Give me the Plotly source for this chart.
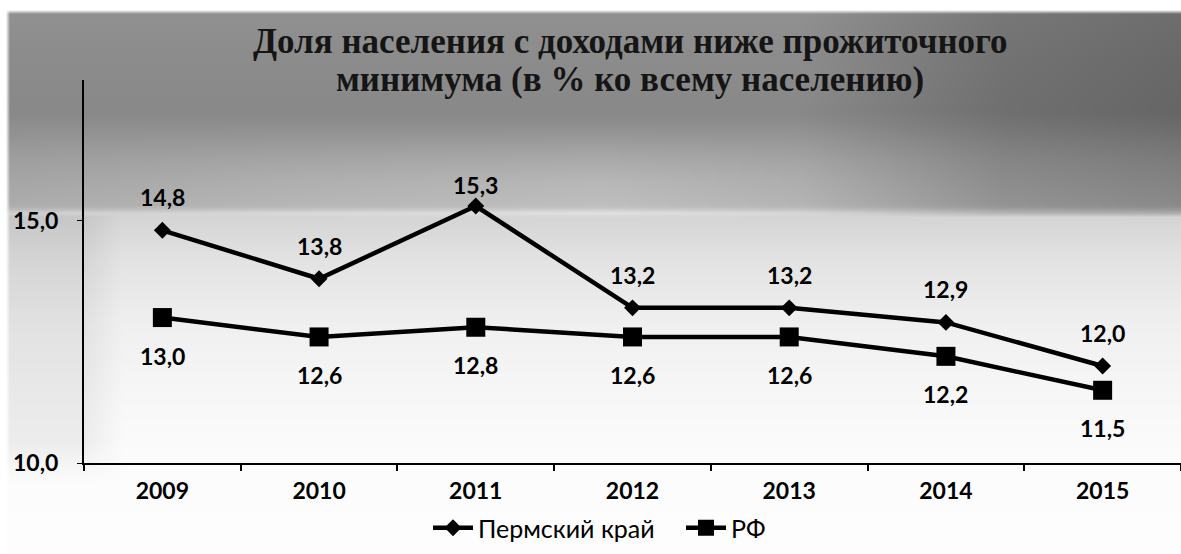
import base64
import struct
import zlib

import plotly.graph_objects as go

# ---------------- data ----------------
years = ["2009", "2010", "2011", "2012", "2013", "2014", "2015"]
perm_values = [14.8, 13.8, 15.3, 13.2, 13.2, 12.9, 12.0]
rf_values = [13.0, 12.6, 12.8, 12.6, 12.6, 12.2, 11.5]
series_names = ["Пермский край", "РФ"]
y_ticks = [10, 15]
title_lines = ["Доля населения с доходами ниже прожиточного",
               "минимума (в % ко всему населению)"]

# ---------------- layout geometry ----------------
W, H = 1181, 554
ML, MR, MT, MB = 84, 0, 80, 91
PW, PH = W - ML - MR, H - MT - MB


def py(ypix):
    """canvas pixel row -> paper y"""
    return 1 + (MT - ypix) / PH


def px(xpix):
    return (xpix - ML) / PW


# ---------------- background texture (smooth gray gradient) ----------------
def interp(v, pts):
    for (a, ga), (b, gb) in zip(pts, pts[1:]):
        if a <= v <= b:
            return ga + (gb - ga) * (v - a) / (b - a)
    return pts[-1][1] if v > pts[-1][0] else pts[0][1]


def gray(x, y):
    if y < 11 or x < 6:
        return 255
    g = interp(y, [(11, 145), (60, 140), (110, 137), (160, 160), (205, 174),
                   (212, 212), (260, 228), (320, 240), (400, 248), (460, 252), (554, 254)])
    if y < 213:
        g -= interp(x, [(0, 0), (800, 0), (1000, 25), (1181, 35)])
        g += interp(x, [(0, 0), (300, 10), (600, 18), (800, 8), (1000, 0), (1181, 0)]) * \
            interp(y, [(0, 0), (120, 0), (180, 1), (213, 1)])
    else:
        g -= interp(x, [(0, 14), (80, 14), (120, 0), (1181, 0)]) * interp(y, [(213, 1), (440, 1), (480, 0), (554, 0)])
    return int(max(0, min(255, g)))


def make_png(w, h, sx, sy):
    raw = bytearray()
    for j in range(h):
        raw.append(0)
        for i in range(w):
            raw.append(gray(i * sx, j * sy))

    def chunk(tag, data):
        c = struct.pack(">I", len(data)) + tag + data
        return c + struct.pack(">I", zlib.crc32(tag + data) & 0xFFFFFFFF)

    png = b"\x89PNG\r\n\x1a\n"
    png += chunk(b"IHDR", struct.pack(">IIBBBBB", w, h, 8, 0, 0, 0, 0))
    png += chunk(b"IDAT", zlib.compress(bytes(raw), 9))
    png += chunk(b"IEND", b"")
    return "data:image/png;base64," + base64.b64encode(png).decode()


bg_w, bg_h = 296, 139
bg_src = make_png(bg_w, bg_h, W / bg_w, H / bg_h)

# ---------------- figure ----------------
label_font = dict(family="Lato", size=23, color="black", weight="bold")
title_font = dict(family="Liberation Serif", size=35, color="#151515", weight="bold")

fig = go.Figure()
fig.add_trace(go.Scatter(
    x=years, y=perm_values, name=series_names[0], mode="lines+markers",
    line=dict(color="black", width=4.5),
    marker=dict(symbol="diamond", size=13, color="black"),
))
fig.add_trace(go.Scatter(
    x=years, y=rf_values, name=series_names[1], mode="lines+markers",
    line=dict(color="black", width=4.5),
    marker=dict(symbol="square", size=19, color="black"),
))

annotations = []
top_val = max(perm_values)
for i, v in enumerate(perm_values):
    annotations.append(dict(x=i, y=v, xref="x", yref="y", text=f"{v:.1f}".replace(".", ","),
                            showarrow=False, yshift=21 if v == top_val else 33, font=label_font))
for i, v in enumerate(rf_values):
    annotations.append(dict(x=i, y=v, xref="x", yref="y", text=f"{v:.1f}".replace(".", ","),
                            showarrow=False, yshift=-38, font=label_font))
for line, ypix in zip(title_lines, [41, 79]):
    annotations.append(dict(x=px(630), y=py(ypix), xref="paper", yref="paper", text=line,
                            showarrow=False, xanchor="center", yanchor="middle", font=title_font))

fig.update_layout(
    template="none",
    width=W, height=H,
    margin=dict(l=ML, r=MR, t=MT, b=MB, pad=0, autoexpand=False),
    paper_bgcolor="white", plot_bgcolor="rgba(0,0,0,0)",
    separators=", ",
    showlegend=True,
    legend=dict(orientation="h", x=428 / W, y=1 - 528 / H, xref="container", yref="container",
                xanchor="left", yanchor="middle",
                font=dict(family="Lato", size=25, color="black"),
                bgcolor="rgba(0,0,0,0)", itemwidth=40, entrywidth=198),
    xaxis=dict(type="category", range=[-0.5, 6.5], showline=True, linecolor="black", linewidth=2,
               ticks="outside", tickson="boundaries", ticklen=6, tickcolor="black", tickwidth=1.5,
               showgrid=False, zeroline=False, tickfont=label_font, ticklabelstandoff=6,
               automargin=False),
    yaxis=dict(range=[10, 17.9], tickvals=y_ticks, tickformat=".1f", showline=True,
               linecolor="black", linewidth=2, ticks="outside", ticklen=5, tickcolor="black",
               showgrid=False, zeroline=False, tickfont=label_font, ticklabelstandoff=14,
               automargin=False),
    annotations=annotations,
    images=[dict(source=bg_src, xref="paper", yref="paper",
                 x=-ML / PW, y=1 + MT / PH, sizex=W / PW, sizey=H / PH,
                 xanchor="left", yanchor="top", sizing="stretch", layer="below")],
)

fig.write_html("out.html", config={"displayModeBar": False},
               post_script="document.body.style.margin='0';document.body.style.overflow='hidden';")
